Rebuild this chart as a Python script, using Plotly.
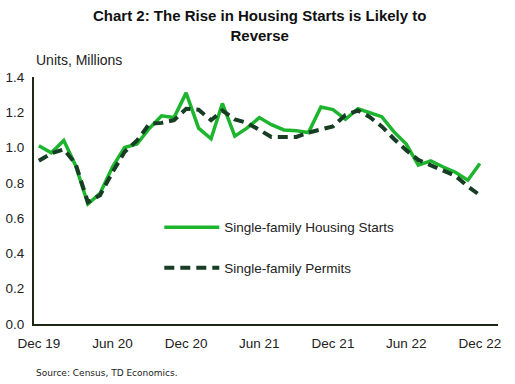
import plotly.graph_objects as go
import pandas as pd

months = pd.date_range("2019-12-01", "2022-12-01", freq="MS").strftime("%Y-%m-%d").tolist()

starts = [1.01, 0.97, 1.04, 0.90, 0.68, 0.74, 0.89, 1.00, 1.02, 1.11,
          1.18, 1.17, 1.31, 1.11, 1.05, 1.25, 1.065, 1.11, 1.17, 1.13,
          1.10, 1.095, 1.085, 1.23, 1.215, 1.16, 1.22, 1.20, 1.175, 1.09,
          1.02, 0.90, 0.925, 0.89, 0.86, 0.815, 0.91]

permits = [0.925, 0.967, 0.99, 0.91, 0.69, 0.73, 0.86, 0.975, 1.04, 1.135,
           1.14, 1.155, 1.22, 1.215, 1.155, 1.21, 1.16, 1.14, 1.10, 1.06,
           1.06, 1.06, 1.085, 1.10, 1.12, 1.185, 1.21, 1.175, 1.12, 1.05,
           0.985, 0.93, 0.90, 0.875, 0.84, 0.78, 0.73]

tick_vals = ["2019-12-01", "2020-06-01", "2020-12-01", "2021-06-01",
             "2021-12-01", "2022-06-01", "2022-12-01"]
tick_text = ["Dec 19", "Jun 20", "Dec 20", "Jun 21", "Dec 21", "Jun 22", "Dec 22"]

y_ticks = [0.0, 0.2, 0.4, 0.6, 0.8, 1.0, 1.2, 1.4]

FONT = "Liberation Sans, Arial, sans-serif"
GREEN = "#1db52e"
DARK = "#173d24"
AXIS = "#1e2616"
TXT = "#222222"

fig = go.Figure()
fig.add_trace(go.Scatter(
    x=months, y=starts, mode="lines", name="Single-family Housing Starts",
    line=dict(color=GREEN, width=3.5), legendgroup="a"))
fig.add_trace(go.Scatter(
    x=months, y=permits, mode="lines", name="Single-family Permits",
    line=dict(color=DARK, width=4, dash="10px,6px"), legendgroup="b"))

fig.update_layout(
    width=515, height=384,
    margin=dict(l=34, r=17, t=77, b=60),
    paper_bgcolor="white", plot_bgcolor="white",
    font=dict(family=FONT, size=13.5, color=TXT),
    showlegend=True,
    legend=dict(x=0.27, y=0.308, xanchor="left", yanchor="middle",
                bgcolor="rgba(0,0,0,0)", font=dict(family=FONT, size=13.5, color=TXT),
                tracegroupgap=20, itemwidth=55),
    xaxis=dict(type="date", range=["2019-11-19", "2023-01-15"],
               tickvals=tick_vals, ticktext=tick_text, showgrid=False,
               showline=True, linecolor=AXIS, linewidth=2, ticks="",
               ticklabelstandoff=6, automargin=False,
               tickfont=dict(size=13.5, color=TXT), zeroline=False),
    yaxis=dict(range=[0, 1.4], tickvals=y_ticks,
               ticktext=[f"{v:.1f}" for v in y_ticks], showgrid=False,
               showline=True, linecolor=AXIS, linewidth=2, ticks="",
               ticklabelstandoff=5, automargin=False,
               tickfont=dict(size=13.5, color=TXT), zeroline=False),
    annotations=[
        dict(text="<b>Chart 2: The Rise in Housing Starts is Likely to<br>Reverse</b>",
             xref="paper", yref="paper", x=0.485, y=1.29, xanchor="center",
             yanchor="top", showarrow=False,
             font=dict(family=FONT, size=15, color="#111111")),
        dict(text="Units, Millions", xref="paper", yref="paper", x=0, y=1.0,
             xanchor="left", yanchor="bottom", yshift=7, showarrow=False,
             font=dict(family=FONT, size=14, color=TXT)),
        dict(text="Source: Census, TD Economics.", xref="paper", yref="paper",
             x=0, y=0, xanchor="left", yanchor="top", yshift=-42, showarrow=False,
             font=dict(family="DejaVu Sans, sans-serif", size=9, color=TXT)),
    ],
)

fig.write_html("out.html")
